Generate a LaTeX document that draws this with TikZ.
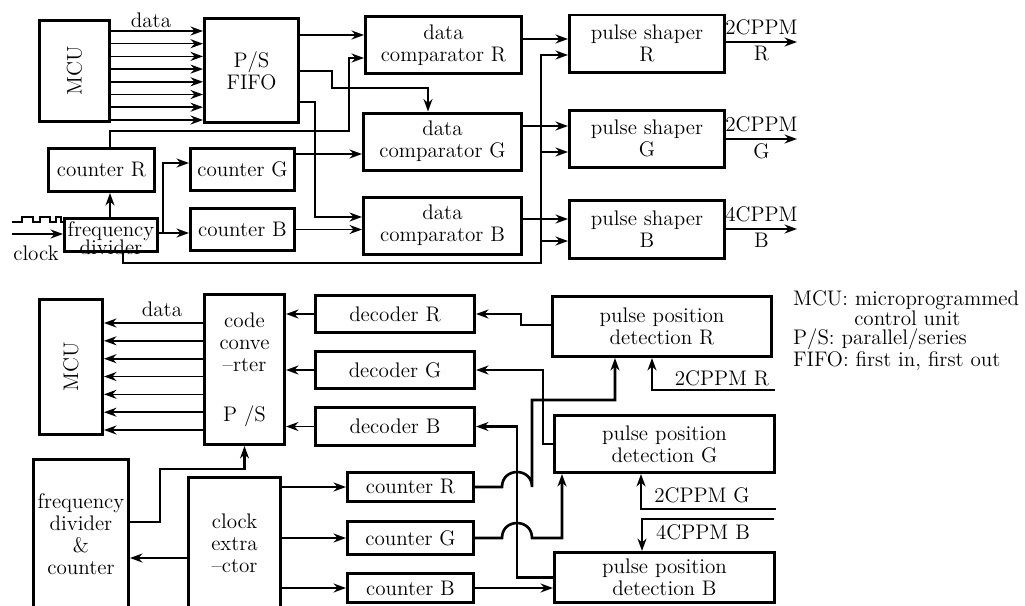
\documentclass[tikz,border=0pt]{standalone}
\usetikzlibrary{arrows.meta}
\tikzset{
  diagram block/.style={draw=black,line width=1.7pt,inner sep=1pt,align=center},
  diagram wire/.style={-{Stealth[length=2.5mm,width=1.8mm]},line width=0.9pt,draw=black},
  diagram bus/.style={diagram wire,line width=1.5pt},
  diagram note/.style={inner sep=1pt,align=center}
}

\begin{document}
\begin{tikzpicture}[x=0.2mm,y=-0.2mm,font=\fontsize{12}{12.5}\selectfont]
  \useasboundingbox (0,0) rectangle (1025,605);

  \node[diagram block,minimum width=14mm,minimum height=20.2mm] (mcuA) at (74.5,71) {\rotatebox{90}{MCU}};
  \node[diagram block,minimum width=18.8mm,minimum height=20.8mm] (fifo) at (251.5,70.5) {P/S\\FIFO};
  \node[diagram block,minimum width=21.2mm,minimum height=8.6mm] (cntRa) at (101.5,170) {counter R};
  \node[diagram block,minimum width=20.8mm,minimum height=8.4mm] (cntGa) at (242.5,169.5) {counter G};
  \node[diagram block,minimum width=20.8mm,minimum height=8.4mm] (cntBa) at (242.5,229.5) {counter B};
  \node[diagram block,minimum width=18.6mm,minimum height=6.6mm] (fdivA) at (111,235) {};
  \node[diagram note] (fdivAtext) at (111,238) {frequency\\[-2pt]divider};
  \node[diagram block,minimum width=31.2mm,minimum height=11.4mm] (dcmpR) at (443.5,45) {data\\comparator R};
  \node[diagram block,minimum width=31.6mm,minimum height=11.4mm] (dcmpG) at (442.5,141.5) {data\\comparator G};
  \node[diagram block,minimum width=31.6mm,minimum height=11.4mm] (dcmpB) at (442.5,225.5) {data\\comparator B};
  \node[diagram block,minimum width=31mm,minimum height=11.4mm] (shpR) at (647,43.5) {pulse shaper\\R};
  \node[diagram block,minimum width=31mm,minimum height=11.4mm] (shpG) at (647,138.5) {pulse shaper\\G};
  \node[diagram block,minimum width=31mm,minimum height=11.6mm] (shpB) at (647,229.5) {pulse shaper\\B};

  \foreach \y in {31,43.7,56.4,69.1,81.8,94.5,107.2,120}
    \draw[diagram wire] (mcuA.east |- 0,\y) -- (fifo.west |- 0,\y);
  \node[diagram note] (dataA) at (151,20) {data};
  \draw[diagram wire] (fifo.east |- 0,35) -- (dcmpR.west |- 0,35);
  \draw[diagram bus] (cntRa.north -| 110,0) |- (349,131) |- (dcmpR.west |- 0,58);
  \draw[diagram bus] (fifo.east |- 0,71) -| (332,88) -| (dcmpG.north -| 428,0);
  \draw[diagram bus] (fifo.east |- 0,102) -| (315,217) -- (dcmpB.west |- 0,217);
  \draw[diagram wire] (cntGa.east |- 0,154) -- (dcmpG.west |- 0,154);
  \draw[diagram wire] (cntBa.east) -- (dcmpB.west |- cntBa.east);
  \draw[diagram wire] (fdivA.north -| 110,0) -- (cntRa.south -| 110,0);
  \coordinate (fdivSplit) at (163,233);
  \draw[diagram wire] (fdivA.east |- fdivSplit) -- (cntBa.west |- fdivSplit);
  \draw[diagram bus] (fdivSplit) |- (cntGa.west |- 0,163);

  \coordinate (clkR) at (541,55);
  \coordinate (clkG) at (541,152);
  \coordinate (clkB) at (541,241);
  \draw[diagram bus] (fdivA.south -| 123,0) |- (541,263) -- (clkR) -- (shpR.west |- clkR);
  \draw[diagram wire] (clkG) -- (shpG.west |- clkG);
  \draw[diagram wire] (clkB) -- (shpB.west |- clkB);
  \draw[diagram wire] (dcmpR.east |- 0,39) -- (shpR.west |- 0,39);
  \draw[diagram wire] (dcmpG.east |- 0,126) -- (shpG.west |- 0,126);
  \draw[diagram wire] (dcmpB.east |- 0,219) -- (shpB.west |- 0,219);

  \coordinate (outR) at (797,42);
  \coordinate (outG) at (797,139);
  \coordinate (outB) at (797,229);
  \draw[diagram wire] (shpR.east |- outR) -- (outR)
    node[diagram note,midway,above=2.5pt] {2CPPM} node[diagram note,midway,below=1pt] {R};
  \draw[diagram wire] (shpG.east |- outG) -- (outG)
    node[diagram note,midway,above=2.5pt] {2CPPM} node[diagram note,midway,below=1pt] {G};
  \draw[diagram wire] (shpB.east |- outB) -- (outB)
    node[diagram note,midway,above=2.5pt] {4CPPM} node[diagram note,midway,below=1pt] {B};

  \coordinate (clkIn) at (12,234);
  \draw[diagram wire] (clkIn) -- (fdivA.west |- clkIn);
  \node[diagram note] (clkText) at (36,253) {clock};
  \draw[line width=1.3pt] (12,222) -- (22,222) -- (22,217) -- (33,217) -- (33,222) -- (40,222)
    -- (40,217) -- (50,217) -- (50,222) -- (56,222) -- (56,217) -- (61,217) -- (61,222) -- (fdivA.west |- 0,222);

  \node[diagram block,minimum width=12.6mm,minimum height=27mm] (mcuB) at (71,367) {\rotatebox{90}{MCU}};
  \node[diagram block,minimum width=16mm,minimum height=30mm] (conv) at (244.5,369.5) {code\\conve\\--rter\\[16pt]P /S};
  \node[diagram block,minimum width=31.8mm,minimum height=7.4mm] (decR) at (395,314) {decoder R};
  \node[diagram block,minimum width=31.8mm,minimum height=7.4mm] (decG) at (395,370) {decoder G};
  \node[diagram block,minimum width=31.8mm,minimum height=7.6mm] (decB) at (395,426.5) {decoder B};
  \node[diagram block,minimum width=19mm,minimum height=30.2mm] (fdcB) at (81,534.5) {frequency\\divider\\\&\\counter};
  \node[diagram block,minimum width=18.4mm,minimum height=26.6mm] (clkx) at (234.5,543.5) {clock\\extra\\--ctor};
  \node[diagram block,minimum width=25.2mm,minimum height=5.8mm] (cntRb) at (410.5,487) {counter R};
  \node[diagram block,minimum width=25.2mm,minimum height=6.6mm] (cntGb) at (410.5,538) {counter G};
  \node[diagram block,minimum width=25.2mm,minimum height=5.8mm] (cntBb) at (410.5,588) {counter B};
  \node[diagram block,minimum width=43.8mm,minimum height=12mm] (ppdR) at (662,326.5) {pulse position\\detection R};
  \node[diagram block,minimum width=44mm,minimum height=11.4mm] (ppdG) at (664.5,444) {pulse position\\detection G};
  \node[diagram block,minimum width=44mm,minimum height=10mm] (ppdB) at (664.5,577.5) {pulse position\\detection B};

  \foreach \y in {323,340.8,358.7,376.5,394.3,412.2,430}
    \draw[diagram wire] (conv.west |- 0,\y) -- (mcuB.east |- 0,\y);
  \node[diagram note] (dataB) at (162,309) {data};
  \draw[diagram wire] (decR.west) -- (conv.east |- decR.west);
  \draw[diagram wire] (decG.west) -- (conv.east |- decG.west);
  \draw[diagram wire] (decB.west) -- (conv.east |- decB.west);
  \draw[diagram bus] (fdcB.east |- 0,522) -| (160,469) -| (conv.south);
  \draw[diagram wire] (clkx.west |- 0,558) -- (fdcB.east |- 0,558);
  \draw[diagram wire] (clkx.east |- cntRb.west) -- (cntRb.west);
  \draw[diagram wire] (clkx.east |- cntGb.west) -- (cntGb.west);
  \draw[diagram wire] (clkx.east |- cntBb.west) -- (cntBb.west);

  \draw[diagram bus] (ppdR.west |- 0,325) -| (521,314) -- (decR.east);
  \draw[diagram bus] (ppdG.west) -| (543,370) -- (decG.east);
  \draw[diagram bus] (ppdB.west) -| (517,426.5) -- (decB.east);
  \draw[diagram bus] (cntRb.east) -- (502,487) .. controls (502,467) and (532,467) .. (532,487)
    |- (615,400) -- (ppdR.south -| 615,0);
  \draw[diagram bus] (cntGb.east) -- (502,538) .. controls (502,518) and (532,518) .. (532,538)
    -| (ppdG.south -| 562,0);
  \draw[diagram wire] (cntBb.east) -- (ppdB.west |- cntBb.east);

  \coordinate (inR) at (775,390);
  \coordinate (inG) at (776,509);
  \coordinate (inB) at (774,519);
  \draw[diagram bus] (inR) -| (ppdR.south -| 652,0);
  \draw[diagram bus] (inG) -| (ppdG.south -| 641,0);
  \draw[diagram bus] (inB) -| (ppdB.north -| 642,0);
  \node[diagram note] (inRtext) at (722,378) {2CPPM R};
  \node[diagram note] (inGtext) at (702,495) {2CPPM G};
  \node[diagram note] (inBtext) at (703,532) {4CPPM B};

  \node[diagram note,align=left,anchor=north west,font=\fontsize{12}{11.1}\selectfont] (legend) at (791,289)
    {MCU: microprogrammed\\\hspace*{2.9em}control unit\\P/S: parallel/series\\FIFO: first in, first out};
\end{tikzpicture}
\end{document}
